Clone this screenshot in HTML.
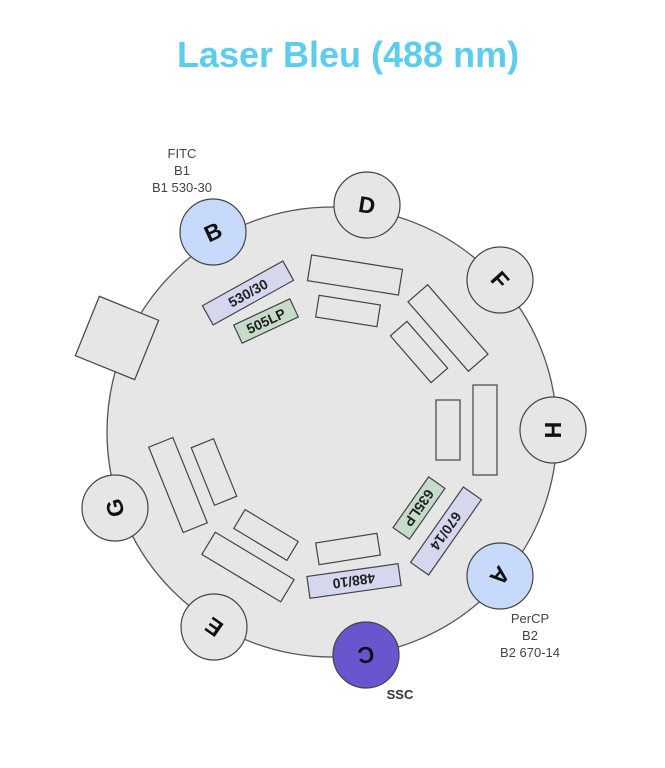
<!DOCTYPE html>
<html><head><meta charset="utf-8"><style>
html,body{margin:0;padding:0;background:#fff;}
svg{display:block;}
text{font-family:"Liberation Sans",sans-serif;}
</style></head><body>
<svg width="665" height="768" viewBox="0 0 665 768" xmlns="http://www.w3.org/2000/svg">
<text x="348" y="67" text-anchor="middle" font-size="36" font-weight="bold" fill="#5dcdee">Laser Bleu (488 nm)</text>

<g fill="#444" font-size="13" text-anchor="middle">
<text x="182" y="158">FITC</text>
<text x="182" y="175">B1</text>
<text x="182" y="192">B1 530-30</text>
<text x="530" y="623">PerCP</text>
<text x="530" y="640">B2</text>
<text x="530" y="657">B2 670-14</text>
</g>
<text x="400" y="699" text-anchor="middle" font-size="13" font-weight="bold" fill="#333">SSC</text>

<circle cx="332" cy="432" r="225" fill="#e6e6e6" stroke="#555" stroke-width="1.3"/>

<rect x="-32" y="-32" width="64" height="64" fill="#e6e6e6" stroke="#444" stroke-width="1.2" transform="translate(117,338) rotate(22)"/>

<g stroke="#444" stroke-width="1.2" fill="#e6e6e6">
<rect x="-46" y="-13" width="92" height="26" transform="translate(355,275) rotate(9)"/>
<rect x="-31" y="-11" width="62" height="22" transform="translate(348,311) rotate(9)"/>
<rect x="-46" y="-13" width="92" height="26" transform="translate(448,328) rotate(49)"/>
<rect x="-31" y="-11" width="62" height="22" transform="translate(419,352) rotate(49)"/>
<rect x="-12" y="-45" width="24" height="90" transform="translate(485,430)"/>
<rect x="-12" y="-30" width="24" height="60" transform="translate(448,430)"/>
<rect x="-31" y="-11" width="62" height="22" transform="translate(348,549) rotate(-9)"/>
<rect x="-46" y="-13" width="92" height="26" transform="translate(248,567) rotate(31)"/>
<rect x="-31" y="-11" width="62" height="22" transform="translate(266,535) rotate(31)"/>
<rect x="-13" y="-46" width="26" height="92" transform="translate(178,485) rotate(-22)"/>
<rect x="-12" y="-31" width="24" height="62" transform="translate(214,472) rotate(-22)"/>
</g>

<g stroke="#444" stroke-width="1.2" font-size="14" font-weight="bold" fill="#222" text-anchor="middle">
<g transform="translate(248,293) rotate(-29)"><rect x="-46" y="-11" width="92" height="22" fill="#d5d7ef"/><text y="5" stroke="none">530/30</text></g>
<g transform="translate(266,321) rotate(-25)"><rect x="-31" y="-10" width="62" height="20" fill="#c4dcc9"/><text y="5" stroke="none">505LP</text></g>
<g transform="translate(446,531) rotate(125)"><rect x="-46" y="-11" width="92" height="22" fill="#d5d7ef"/><text y="5" stroke="none">670/14</text></g>
<g transform="translate(419,508) rotate(125)"><rect x="-31" y="-10" width="62" height="20" fill="#c4dcc9"/><text y="5" stroke="none">635LP</text></g>
<g transform="translate(354,581) rotate(172)"><rect x="-46" y="-11" width="92" height="22" fill="#d5d7ef"/><text y="5" stroke="none">488/10</text></g>
</g>

<g stroke="#444" stroke-width="1.2" font-size="23" font-weight="bold" fill="#111" text-anchor="middle">
<g transform="translate(213,232)"><circle r="33" fill="#c8dafc"/><text y="8" stroke="none" transform="rotate(-25)">B</text></g>
<g transform="translate(367,205)"><circle r="33" fill="#e6e6e6"/><text y="8" stroke="none" transform="rotate(9)">D</text></g>
<g transform="translate(500,280)"><circle r="33" fill="#e6e6e6"/><text y="8" stroke="none" transform="rotate(48)">F</text></g>
<g transform="translate(553,430)"><circle r="33" fill="#e6e6e6"/><text y="8" stroke="none" transform="rotate(90)">H</text></g>
<g transform="translate(500,576)"><circle r="33" fill="#c8dafc"/><text y="8" stroke="none" transform="rotate(130)">A</text></g>
<g transform="translate(366,655)"><circle r="33" fill="#6a55cf"/><text y="8" stroke="none" transform="rotate(172)">C</text></g>
<g transform="translate(214,627)"><circle r="33" fill="#e6e6e6"/><text y="8" stroke="none" transform="rotate(-145)">E</text></g>
<g transform="translate(115,508)"><circle r="33" fill="#e6e6e6"/><text y="8" stroke="none" transform="rotate(-105)">G</text></g>
</g>
</svg>
</body></html>
